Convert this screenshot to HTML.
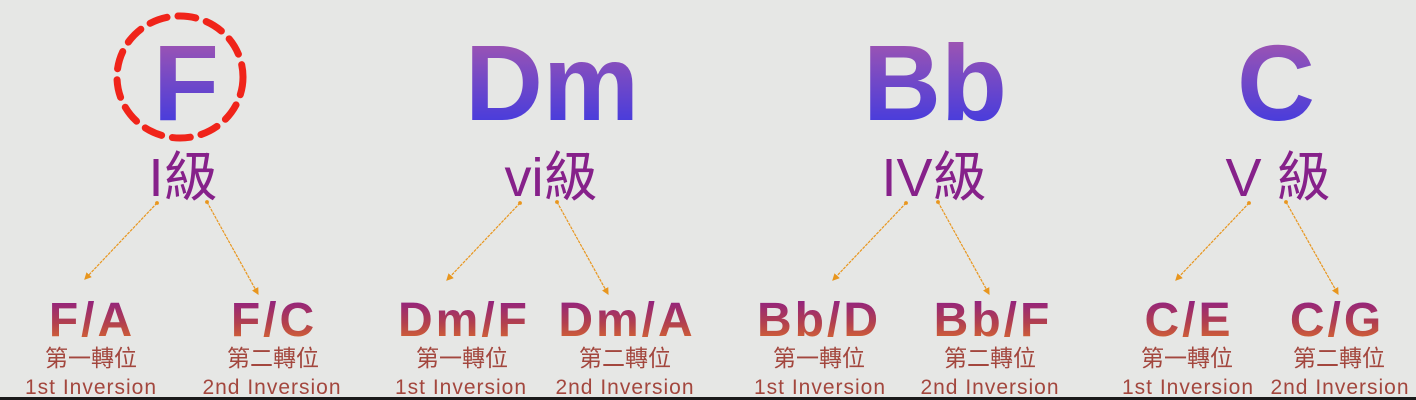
<!DOCTYPE html>
<html><head><meta charset="utf-8"><style>
html,body{margin:0;padding:0;background:#e6e7e5;}
svg{display:block;}
.big{font-family:"Liberation Sans",sans-serif;font-weight:bold;font-size:108px;}
.lvl{font-family:"Liberation Sans","Noto Sans CJK TC",sans-serif;font-size:54px;fill:#86218a;}
.inv{font-family:"Liberation Sans",sans-serif;font-weight:bold;font-size:48px;letter-spacing:3px;}
.zh{font-family:"Noto Sans CJK TC",sans-serif;font-size:23px;fill:#a3473e;}
.en{font-family:"Liberation Sans",sans-serif;font-size:21px;fill:#a3473e;letter-spacing:1px;}
</style></head><body>
<svg width="1416" height="400" viewBox="0 0 1416 400" xmlns="http://www.w3.org/2000/svg">
<defs>
<linearGradient id="gb" x1="0" y1="0" x2="0" y2="1"><stop offset="0" stop-color="#b25aa8"/><stop offset="0.5" stop-color="#7048c8"/><stop offset="1" stop-color="#3436e6"/></linearGradient>
<linearGradient id="go" x1="0" y1="0" x2="0" y2="1"><stop offset="0" stop-color="#8a1a8c"/><stop offset="0.55" stop-color="#b2404e"/><stop offset="1" stop-color="#e2742a"/></linearGradient>
<marker id="ah" markerWidth="6" markerHeight="6" refX="5" refY="3" orient="auto"><path d="M0,0 L6,3 L0,6z" fill="#e8961e"/></marker>
<marker id="dot" markerWidth="4" markerHeight="4" refX="2" refY="2"><circle cx="2" cy="2" r="1.6" fill="#e8961e"/></marker>
</defs>
<rect width="1416" height="400" fill="#e6e7e5"/>
<rect y="397" width="1416" height="3" fill="#1a1a1a"/>
<g class="big" fill="url(#gb)" text-anchor="middle">
<text x="186" y="120">F</text>
<text x="552" y="120">Dm</text>
<text x="935" y="120">Bb</text>
<text x="1276" y="120">C</text>
</g>
<ellipse cx="180" cy="77" rx="63" ry="61" fill="none" stroke="#f0241a" stroke-width="7" stroke-dasharray="18 11" stroke-linecap="round"/>
<g class="lvl" text-anchor="middle">
<text x="183" y="196">I級</text>
<text x="551" y="196">vi級</text>
<text x="934" y="196">IV級</text>
<text x="1278" y="196">V 級</text>
</g>
<g stroke="#e8961e" stroke-width="1.2" stroke-dasharray="3 1" fill="none" marker-end="url(#ah)" marker-start="url(#dot)">
<line x1="157" y1="203" x2="85" y2="279"/>
<line x1="207" y1="202" x2="258" y2="294"/>
<line x1="520" y1="203" x2="447" y2="280"/>
<line x1="557" y1="202" x2="608" y2="294"/>
<line x1="906" y1="203" x2="833" y2="280"/>
<line x1="938" y1="202" x2="989" y2="294"/>
<line x1="1249" y1="203" x2="1176" y2="280"/>
<line x1="1286" y1="202" x2="1338" y2="294"/>
</g>
<g class="inv" fill="url(#go)" text-anchor="middle">
<text x="92" y="336">F/A</text>
<text x="274" y="336">F/C</text>
<text x="464" y="336">Dm/F</text>
<text x="627" y="336">Dm/A</text>
<text x="819" y="336">Bb/D</text>
<text x="993" y="336">Bb/F</text>
<text x="1189" y="336">C/E</text>
<text x="1337" y="336">C/G</text>
</g>
<g class="zh" text-anchor="middle">
<text x="91" y="366">第一轉位</text>
<text x="273" y="366">第二轉位</text>
<text x="462" y="366">第一轉位</text>
<text x="625" y="366">第二轉位</text>
<text x="819" y="366">第一轉位</text>
<text x="990" y="366">第二轉位</text>
<text x="1187" y="366">第一轉位</text>
<text x="1339" y="366">第二轉位</text>
</g>
<g class="en" text-anchor="middle">
<text x="91" y="394">1st Inversion</text>
<text x="272" y="394">2nd Inversion</text>
<text x="461" y="394">1st Inversion</text>
<text x="625" y="394">2nd Inversion</text>
<text x="820" y="394">1st Inversion</text>
<text x="990" y="394">2nd Inversion</text>
<text x="1188" y="394">1st Inversion</text>
<text x="1340" y="394">2nd Inversion</text>
</g>
</svg>
</body></html>
